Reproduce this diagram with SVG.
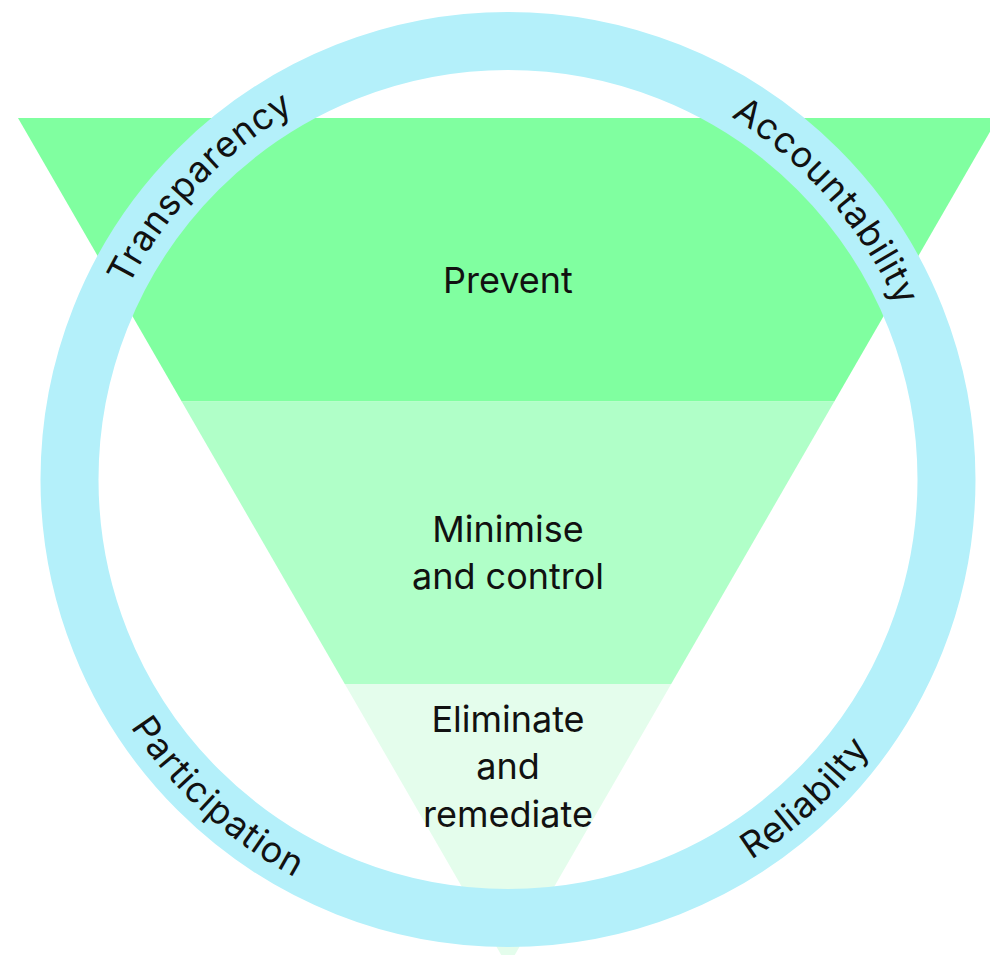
<svg xmlns="http://www.w3.org/2000/svg" xmlns:xlink="http://www.w3.org/1999/xlink" width="990" height="955" viewBox="0 0 990 955">
  <style>
    .lbl { font-family: Inter, "Noto Sans", "Liberation Sans", sans-serif; font-size: 36px; fill: #111111; }
    .ctr { text-anchor: middle; }
    .ring-lbl { font-family: Inter, "Noto Sans", "Liberation Sans", sans-serif; font-size: 36px; fill: #111111; letter-spacing: 1px; }
  </style>
  <defs>
    <path id="arcTop" d="M 82 479.5 A 426 426 0 0 1 934 479.5"/>
    <path id="arcBottom" d="M 56.5 479.5 A 451.5 451.5 0 0 0 959.5 479.5"/>
  </defs>
  <rect width="990" height="955" fill="#ffffff"/>
  <g id="prevent">
    <polygon points="18,118 998,118 834.3,401.5 181.7,401.5" fill="#80ffa0"/>
    <text class="lbl ctr" x="508" y="292.5">Prevent</text>
  </g>
  <g id="minimise">
    <polygon points="181.7,401.5 834.3,401.5 671.2,684 344.8,684" fill="#b0ffc8"/>
    <text class="lbl ctr" x="508" y="541.5">Minimise</text>
    <text class="lbl ctr" x="508" y="589.3">and control</text>
  </g>
  <g id="eliminate">
    <polygon points="344.8,684 671.2,684 508,966.7" fill="#e4fdec"/>
    <text class="lbl ctr" x="508" y="731.7">Eliminate</text>
    <text class="lbl ctr" x="508" y="779">and</text>
    <text class="lbl ctr" x="508" y="826.7">remediate</text>
  </g>
  <g id="ring">
    <circle cx="508" cy="479.5" r="438.5" fill="none" stroke="#b4f0fa" stroke-width="58"/>
  </g>
  <g id="transparency">
    <text class="ring-lbl ctr"><textPath xlink:href="#arcTop" href="#arcTop" startOffset="323">Transparency</textPath></text>
  </g>
  <g id="accountability">
    <text class="ring-lbl ctr"><textPath xlink:href="#arcTop" href="#arcTop" startOffset="1032">Accountability</textPath></text>
  </g>
  <g id="participation">
    <text class="ring-lbl ctr"><textPath xlink:href="#arcBottom" href="#arcBottom" startOffset="375">Participation</textPath></text>
  </g>
  <g id="reliability">
    <text class="ring-lbl ctr"><textPath xlink:href="#arcBottom" href="#arcBottom" startOffset="1048">Reliabilty</textPath></text>
  </g>
  <g id="connectors"></g>
</svg>
